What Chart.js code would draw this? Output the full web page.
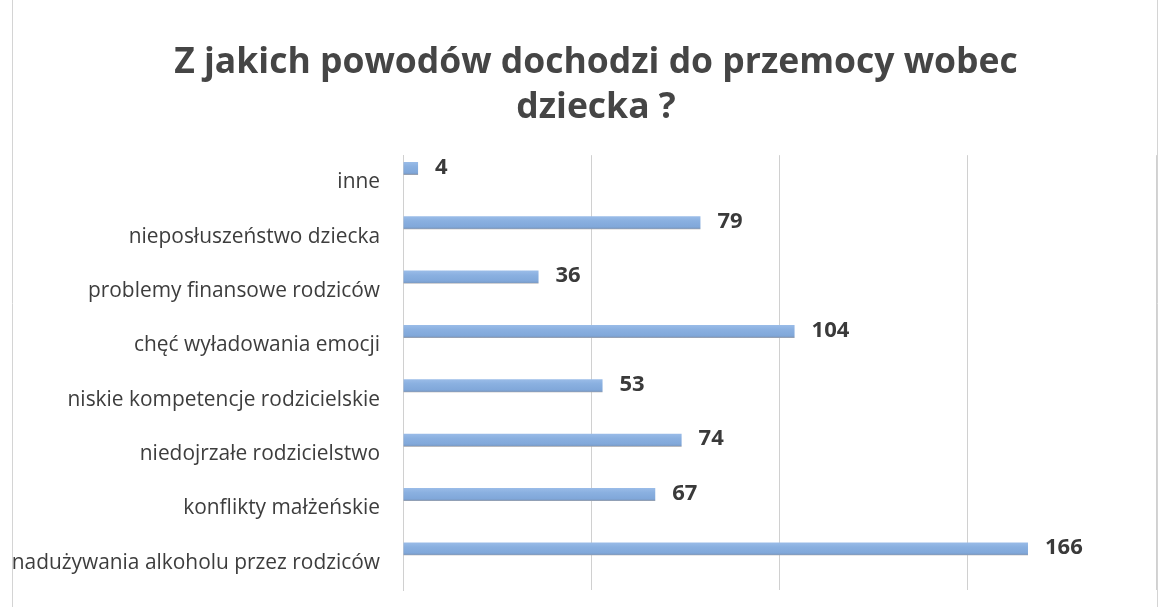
<!DOCTYPE html>
<html>
<head>
<meta charset="utf-8">
<script src="https://cdn.jsdelivr.net/npm/chart.js@4"></script>
<style>
  html, body { margin: 0; padding: 0; background: #ffffff; }
  #wrap { width: 1168px; height: 607px; position: relative; }
</style>
</head>
<body>
<div id="wrap"><canvas id="c"></canvas></div>
<script>
const titleLines = ["Z jakich powodów dochodzi do przemocy wobec", "dziecka ?"];
const categories = [
  "inne",
  "nieposłuszeństwo dziecka",
  "problemy finansowe rodziców",
  "chęć wyładowania emocji",
  "niskie kompetencje rodzicielskie",
  "niedojrzałe rodzicielstwo",
  "konflikty małżeńskie",
  "nadużywania alkoholu przez rodziców"
];
const values = [4, 79, 36, 104, 53, 74, 67, 166];
const axisMin = 0;
const axisMax = 200;
const axisStep = 50;

const FONT = "'Open Sans', sans-serif";
const CAT_PCT = 0.77;
const BAR_PCT = 0.93;

function barFill(ctx) {
  const chart = ctx.chart;
  const y = chart.scales && chart.scales.y;
  if (!y || ctx.dataIndex === undefined) return '#88aee0';
  const c = y.getPixelForValue(ctx.dataIndex);
  const band = Math.abs(y.getPixelForValue(1) - y.getPixelForValue(0));
  if (!isFinite(c) || !isFinite(band) || band === 0) return '#88aee0';
  const slot = band * CAT_PCT / 3;
  const center = c - slot;
  const h = slot * BAR_PCT;
  const g = chart.ctx.createLinearGradient(0, center - h / 2, 0, center + h / 2);
  g.addColorStop(0, '#9abce8');
  g.addColorStop(0.35, '#8ab0e0');
  g.addColorStop(0.8, '#81a8da');
  g.addColorStop(0.92, '#7c9dc8');
  g.addColorStop(1, '#a6a3a4');
  return g;
}

const valueLabels = {
  id: 'valueLabels',
  afterDatasetsDraw(chart) {
    const ctx = chart.ctx;
    const meta = chart.getDatasetMeta(0);
    ctx.save();
    ctx.font = "bold 22px " + FONT;
    ctx.fillStyle = '#3a3a3a';
    ctx.textAlign = 'left';
    ctx.textBaseline = 'middle';
    meta.data.forEach((el, i) => {
      ctx.fillText(String(values[i]), el.x + 17, el.y - 1);
    });
    ctx.restore();
  }
};

// shift the title block so it is centred like the original (slightly right of canvas centre)
const titleShift = {
  id: 'titleShift',
  afterLayout(chart) {
    const t = chart.titleBlock;
    if (t) { t.left = 36; }
  }
};

const frame = {
  id: 'frame',
  beforeDraw(chart) {
    const ctx = chart.ctx;
    ctx.save();
    ctx.strokeStyle = '#d4d4d4';
    ctx.lineWidth = 1;
    ctx.beginPath();
    ctx.moveTo(12.5, 0);
    ctx.lineTo(12.5, chart.height);
    ctx.moveTo(chart.width - 10.5, 0);
    ctx.lineTo(chart.width - 10.5, chart.height);
    ctx.stroke();
    ctx.restore();
  }
};

new Chart(document.getElementById('c'), {
  type: 'bar',
  data: {
    labels: categories,
    datasets: [
      { data: values, backgroundColor: barFill, borderWidth: 0, barPercentage: BAR_PCT, categoryPercentage: CAT_PCT },
      { data: categories.map(() => null), backgroundColor: 'rgba(0,0,0,0)', barPercentage: BAR_PCT, categoryPercentage: CAT_PCT },
      { data: categories.map(() => null), backgroundColor: 'rgba(0,0,0,0)', barPercentage: BAR_PCT, categoryPercentage: CAT_PCT }
    ]
  },
  options: {
    indexAxis: 'y',
    responsive: true,
    maintainAspectRatio: false,
    animation: false,
    layout: { padding: { left: 0, right: 12, top: 0, bottom: 17 } },
    plugins: {
      legend: { display: false },
      tooltip: { enabled: false },
      title: {
        display: true,
        text: titleLines,
        color: '#454545',
        font: { family: FONT, size: 35.5, weight: 'bold', lineHeight: 1.27 },
        padding: { top: 40, bottom: 25 }
      }
    },
    scales: {
      x: {
        min: axisMin,
        max: axisMax,
        ticks: { display: false, stepSize: axisStep },
        grid: { color: '#d0d0d0', lineWidth: 1, drawTicks: false },
        border: { display: false },
        afterFit(scale) { scale.height = 0; }
      },
      y: {
        ticks: {
          color: '#3d3d3d',
          font: { family: FONT, size: 20.9 },
          padding: 23
        },
        grid: { display: false, drawTicks: false },
        border: { display: true, color: '#d0d0d0' },
        afterFit(scale) {
          scale.width = 403;
          scale.paddingTop = 0;
          scale.paddingBottom = 0;
        }
      }
    }
  },
  plugins: [frame, titleShift, valueLabels]
});
</script>
</body>
</html>
